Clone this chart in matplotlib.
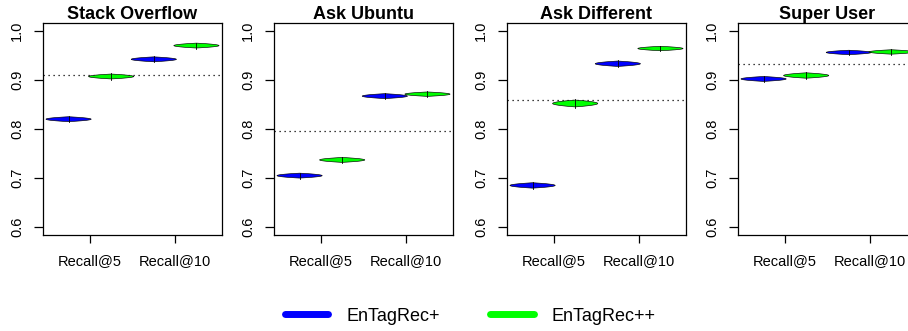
import numpy as np
import matplotlib
matplotlib.use("Agg")
import matplotlib.pyplot as plt
from matplotlib.lines import Line2D

plt.rcParams['font.family'] = ['Liberation Sans', 'DejaVu Sans']

# data
sites = ["Stack Overflow", "Ask Ubuntu", "Ask Different", "Super User"]
metrics = ["Recall@5", "Recall@10"]
plus_r5 = [0.820, 0.705, 0.685, 0.902]
plus_r10 = [0.942, 0.867, 0.933, 0.956]
pp_r5 = [0.907, 0.737, 0.852, 0.909]
pp_r10 = [0.970, 0.871, 0.964, 0.957]
# half range of each violin
plus_r5_sd = [0.005, 0.005, 0.0055, 0.005]
plus_r10_sd = [0.005, 0.005, 0.0055, 0.0045]
pp_r5_sd = [0.005, 0.005, 0.007, 0.0055]
pp_r10_sd = [0.005, 0.0045, 0.0045, 0.0045]
baseline = [0.910, 0.795, 0.859, 0.932]

blue = "#0000FF"
green = "#00FF00"

W, H = 908, 331
fig = plt.figure(figsize=(W / 100, H / 100), dpi=100)

lefts = [43, 274, 507, 738]
ax_w, ax_top, ax_bot = 179, 23, 235


def violin(ax, pos, mid, half, color):
    # flat violin: tiny vertical range, full width
    t = np.linspace(-1, 1, 61)
    w = 0.53 * (1 - t ** 2)
    y = mid + half * t
    xs = np.concatenate([pos - w, (pos + w)[::-1]])
    ys = np.concatenate([y, y[::-1]])
    ax.fill(xs, ys, facecolor=color, edgecolor="black", lw=0.45, zorder=3)
    ax.plot([pos, pos], [mid - half * 1.25, mid + half * 1.25], color="black", lw=0.6, zorder=4)


for i, site in enumerate(sites):
    ax = fig.add_axes([lefts[i] / W, (H - ax_bot) / H, ax_w / W, (ax_bot - ax_top) / H])
    violin(ax, 1, plus_r5[i], plus_r5_sd[i], blue)
    violin(ax, 2, pp_r5[i], pp_r5_sd[i], green)
    violin(ax, 3, plus_r10[i], plus_r10_sd[i], blue)
    violin(ax, 4, pp_r10[i], pp_r10_sd[i], green)
    ax.axhline(baseline[i], color="black", ls=(0, (1, 3)), lw=0.9, zorder=2)

    ax.set_xlim(0.4, 4.6)
    ax.set_ylim(0.584, 1.016)
    ax.set_xticks([1.5, 3.5])
    ax.set_xticklabels(metrics, fontsize=10.5)
    ax.set_yticks([0.6, 0.7, 0.8, 0.9, 1.0])
    ax.set_yticklabels(["0.6", "0.7", "0.8", "0.9", "1.0"], fontsize=10.5,
                       rotation=90, va="center")
    ax.tick_params(axis="x", length=6, width=0.9, pad=8)
    ax.tick_params(axis="y", length=6.5, width=0.9, pad=7)
    for s in ax.spines.values():
        s.set_linewidth(0.9)
    ax.set_title(site, fontsize=13, fontweight="bold", pad=2)

handles = [Line2D([], [], color=blue, lw=5, solid_capstyle="round"),
           Line2D([], [], color=green, lw=5, solid_capstyle="round")]
fig.legend(handles, ["EnTagRec+", "EnTagRec++"], loc="center",
           bbox_to_anchor=(0.518, 0.045), ncol=2, frameon=False, fontsize=13,
           handlelength=2.4, handletextpad=1.0, columnspacing=2.8)

fig.savefig("out.png", dpi=100)
